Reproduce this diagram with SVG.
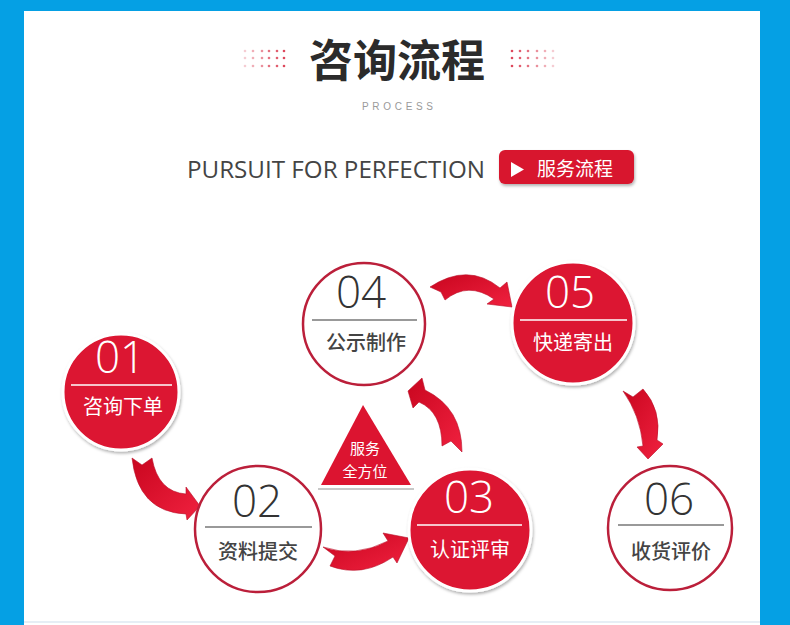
<svg xmlns="http://www.w3.org/2000/svg" width="790" height="625" viewBox="0 0 790 625">
<defs>
<style>
.num{font-family:"Open Sans","Liberation Sans",sans-serif;font-weight:300;font-size:44px;text-anchor:middle}
.lab{font-family:"Noto Sans CJK SC",sans-serif;font-size:20px;text-anchor:middle}
.red{fill:#dc1430;stroke:#fff;stroke-width:3;filter:url(#sh)}
.wht{fill:#fff;stroke:#bb1f3a;stroke-width:2.5}
.wn{fill:#333}
.wl{fill:#444;font-weight:500}
.rn{fill:#fff}
.wline{stroke:#777;stroke-width:1.5}
.rline{stroke:#fff;stroke-width:1.5}
.arr{fill:url(#ag);stroke:#b80f28;stroke-width:0.6}
.dot{fill:#d9344a}
.tri{font-family:"Noto Sans CJK SC",sans-serif;font-size:15px;fill:#fff;text-anchor:middle}
</style>
<linearGradient id="ag" x1="0" y1="0" x2="1" y2="1">
<stop offset="0" stop-color="#c9061f"/>
<stop offset="1" stop-color="#f0213f"/>
</linearGradient>
<filter id="sh" x="-20%" y="-20%" width="140%" height="140%">
<feDropShadow dx="1" dy="2" stdDeviation="1.8" flood-color="#000" flood-opacity="0.3"/>
</filter>
</defs>
<rect x="0" y="0" width="790" height="625" fill="#05a0e4"/>
<rect x="24" y="11" width="736" height="614" fill="#fff"/>
<line x1="24" y1="622" x2="760" y2="622" stroke="#e6eef5" stroke-width="2"/>

<g id="title">
<g class="dot">
<circle cx="245" cy="51" r="1.3" opacity="0.25"/><circle cx="253" cy="51" r="1.3" opacity="0.4"/><circle cx="262" cy="51" r="1.3" opacity="0.55"/><circle cx="269" cy="51" r="1.3" opacity="0.7"/><circle cx="277" cy="51" r="1.3" opacity="0.8"/><circle cx="284" cy="51" r="1.3" opacity="0.9"/>
<circle cx="245" cy="58" r="1.3" opacity="0.25"/><circle cx="253" cy="58" r="1.3" opacity="0.4"/><circle cx="262" cy="58" r="1.3" opacity="0.55"/><circle cx="269" cy="58" r="1.3" opacity="0.7"/><circle cx="277" cy="58" r="1.3" opacity="0.8"/><circle cx="284" cy="58" r="1.3" opacity="0.9"/>
<circle cx="245" cy="66" r="1.3" opacity="0.25"/><circle cx="253" cy="66" r="1.3" opacity="0.4"/><circle cx="262" cy="66" r="1.3" opacity="0.55"/><circle cx="269" cy="66" r="1.3" opacity="0.7"/><circle cx="277" cy="66" r="1.3" opacity="0.8"/><circle cx="284" cy="66" r="1.3" opacity="0.9"/>
<circle cx="512" cy="51" r="1.3" opacity="0.9"/><circle cx="520" cy="51" r="1.3" opacity="0.8"/><circle cx="528" cy="51" r="1.3" opacity="0.7"/><circle cx="537" cy="51" r="1.3" opacity="0.55"/><circle cx="545" cy="51" r="1.3" opacity="0.4"/><circle cx="553" cy="51" r="1.3" opacity="0.25"/>
<circle cx="512" cy="58" r="1.3" opacity="0.9"/><circle cx="520" cy="58" r="1.3" opacity="0.8"/><circle cx="528" cy="58" r="1.3" opacity="0.7"/><circle cx="537" cy="58" r="1.3" opacity="0.55"/><circle cx="545" cy="58" r="1.3" opacity="0.4"/><circle cx="553" cy="58" r="1.3" opacity="0.25"/>
<circle cx="512" cy="66" r="1.3" opacity="0.9"/><circle cx="520" cy="66" r="1.3" opacity="0.8"/><circle cx="528" cy="66" r="1.3" opacity="0.7"/><circle cx="537" cy="66" r="1.3" opacity="0.55"/><circle cx="545" cy="66" r="1.3" opacity="0.4"/><circle cx="553" cy="66" r="1.3" opacity="0.25"/>
</g>
<text x="397" y="77" font-family="'Noto Sans CJK SC',sans-serif" font-weight="700" font-size="44" fill="#2b2b2b" text-anchor="middle">咨询流程</text>
<text x="362" y="110" font-family="'Liberation Sans',sans-serif" font-size="10" fill="#9a9a9a" textLength="71" lengthAdjust="spacing">PROCESS</text>
<text x="187" y="178" font-family="'Open Sans','Liberation Sans',sans-serif" font-size="24" fill="#444" textLength="298" lengthAdjust="spacingAndGlyphs">PURSUIT FOR PERFECTION</text>
<rect x="499" y="150" width="135" height="34" rx="6" fill="#d8172e" filter="url(#sh)"/>
<polygon points="511,162 511,177 524,169.5" fill="#fff"/>
<text x="537" y="176" font-family="'Noto Sans CJK SC',sans-serif" font-size="19" fill="#fff">服务流程</text>
</g>

<g id="connectors">
<path class="arr" d="M132,458 L142,465 L152,458 Q158,492 186,494 L186,487 L200,506 L187,520 L186,514 Q138,512 132,458 Z"/>
<path class="arr" d="M323,547 L335,556 L330,566 Q362,578 393,557 L397,563 L409,538 L383,533 L388,541 Q355,558 323,547 Z"/>
<path class="arr" d="M442,446 L451,441 L462,452 Q462,408 425,390 L422,378 L408,391 L413,408 L419,402 Q442,412 442,446 Z"/>
<path class="arr" d="M430,287 Q468,262 500,288 L507,282 L512,307 L487,304 L494,299 Q468,281 445,300 L441,292 Z"/>
<path class="arr" d="M623,391 L633,397 L643,389 Q662,410 657,440 L663,444 L648,459 L637,447 L643,446 Q640,415 623,391 Z"/>
</g>

<g id="center">
<line x1="318" y1="489" x2="414" y2="489" stroke="#c8c8c8" stroke-width="2"/>
<polygon points="363,405 321,485 411,485" fill="#dc1430"/>
<text class="tri" x="365" y="454">服务</text>
<text class="tri" x="365" y="477">全方位</text>
</g>

<g id="n01">
<circle class="red" cx="121" cy="392" r="58"/>
<text class="num rn" x="120" y="373">01</text>
<line class="rline" x1="71" y1="385" x2="172" y2="385"/>
<text class="lab rn" x="123" y="414">咨询下单</text>
</g>

<g id="n02">
<circle class="wht" cx="258" cy="529" r="63"/>
<text class="num wn" x="257" y="517">02</text>
<line class="wline" x1="205" y1="527" x2="312" y2="527"/>
<text class="lab wl" x="258" y="559">资料提交</text>
</g>

<g id="n03">
<circle class="red" cx="470" cy="530" r="61"/>
<text class="num rn" x="469" y="513">03</text>
<line class="rline" x1="417" y1="525" x2="522" y2="525"/>
<text class="lab rn" x="470" y="557">认证评审</text>
</g>

<g id="n04">
<circle class="wht" cx="364" cy="324" r="61"/>
<text class="num wn" x="361" y="308">04</text>
<line class="wline" x1="312" y1="320" x2="417" y2="320"/>
<text class="lab wl" x="366" y="350">公示制作</text>
</g>

<g id="n05">
<circle class="red" cx="573" cy="323" r="61"/>
<text class="num rn" x="570" y="308">05</text>
<line class="rline" x1="520" y1="320" x2="627" y2="320"/>
<text class="lab rn" x="573" y="350">快递寄出</text>
</g>

<g id="n06">
<circle class="wht" cx="670" cy="528" r="62"/>
<text class="num wn" x="669" y="515">06</text>
<line class="wline" x1="618" y1="525" x2="724" y2="525"/>
<text class="lab wl" x="671" y="559">收货评价</text>
</g>
</svg>
